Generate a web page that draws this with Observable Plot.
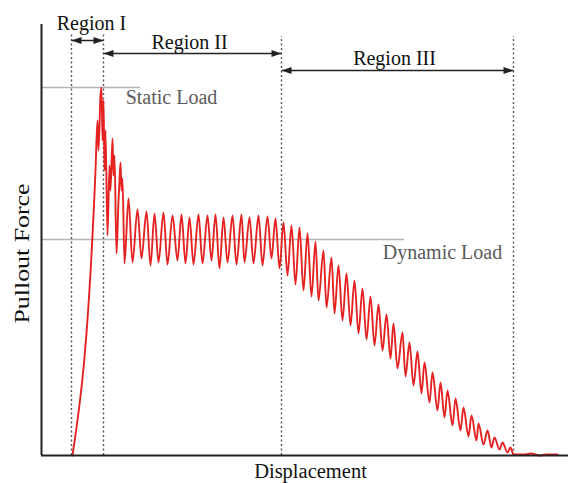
<!DOCTYPE html>
<html>
<head>
<meta charset="utf-8">
<script src="https://cdn.jsdelivr.net/npm/d3@7"></script>
<script src="https://cdn.jsdelivr.net/npm/@observablehq/plot@0.6"></script>
<style>
  html, body { margin: 0; padding: 0; background: #fff; }
  #chart svg { display: block; }
</style>
</head>
<body>
<div id="chart"></div>
<script>
// Displacement (arbitrary units) and pullout force (arbitrary units) of the curve's turning points
const disp = [31, 54, 56, 57, 59, 60, 61, 62, 63, 64, 66, 68, 69, 71, 72, 73, 75, 77, 78, 79, 80, 81, 83, 87, 91,
  96, 100, 105, 109, 113, 117, 122, 126, 131, 136, 140, 144, 148, 152, 157, 161, 166, 170, 174, 178, 182, 186,
  191, 195, 200, 203, 208, 212, 217, 221, 226, 230, 234, 238,
  242, 246, 250, 254, 258, 262, 266, 270, 274, 277, 282, 285, 290, 293, 297, 301, 305, 309, 313, 317, 321, 325,
  329, 333, 337, 341, 345, 349, 352, 356, 361, 364, 368, 372, 376, 380, 383, 388, 391, 396, 399, 403, 406, 411,
  414, 419, 422, 427, 430, 435, 437, 442, 446, 450, 453, 458, 461, 466, 469, 472, 484, 489, 499, 504, 516];
const force = [0, 285, 335, 305, 360, 368, 315, 355, 285, 325, 220, 290, 265, 317, 280, 300, 202, 255, 275, 293, 265, 277, 192, 257, 193,
  246, 197, 244, 190, 242, 193, 243, 191, 240, 195, 241, 192, 238, 191, 241, 192, 240, 195, 241, 187, 238, 193,
  240, 191, 241, 193, 238, 192, 240, 190, 239, 197, 237, 187,
  233, 180, 230, 171, 228, 165, 222, 159, 214, 155, 205, 148, 198, 142, 190, 135, 182, 130, 175, 122, 167, 116,
  159, 110, 151, 105, 141, 97, 132, 87, 123, 79, 113, 70, 104, 62, 93, 53, 83, 45, 73, 38, 65, 30,
  57, 25, 48, 19, 40, 15, 32, 11, 25, 8, 18, 6, 13, 3, 8, 1, 1, 2, 0, 1, 1];

// Region boundaries (displacement) and region labels
const boundaries = [30, 62, 240, 472];
const boundaryTops = [422, 422, 419, 419];
const regionNames = ["Region I", "Region II", "Region III"];
const regionArrowLevel = [415, 402, 385];
const regionLabelX = [50, 148, 353];
const regionLabelY = [432, 413, 397];

// Reference load levels
const loadNames = ["Static Load", "Dynamic Load"];
const loadLevels = [368, 216];
const loadLineEnds = [99, 363];
const loadLabelX = [130, 401];
const loadLabelY = [358, 203];

const curve = disp.map((d, i) => ({x: d, y: force[i]}));
const bounds = boundaries.map((b, i) => ({x: b, top: boundaryTops[i]}));
const regions = regionNames.map((n, i) => ({
  name: n, x1: boundaries[i], x2: boundaries[i + 1], y: regionArrowLevel[i],
  lx: regionLabelX[i], ly: regionLabelY[i]
}));
const heads = regions.flatMap(r => [
  {x: r.x1, y: r.y, rot: 180},
  {x: r.x2, y: r.y, rot: 0}
]);
const loads = loadNames.map((n, i) => ({name: n, y: loadLevels[i], x2: loadLineEnds[i], lx: loadLabelX[i], ly: loadLabelY[i]}));

const arrowHead = {
  draw(context) {
    context.moveTo(0, 0);
    context.lineTo(-10, -3.6);
    context.lineTo(-10, 3.6);
    context.closePath();
  }
};

const serif = "Liberation Serif, Times New Roman, serif";

const chart = Plot.plot({
  width: 568,
  height: 483,
  marginLeft: 41,
  marginRight: 0,
  marginTop: 24,
  marginBottom: 28,
  style: {background: "#fff", fontFamily: serif, overflow: "visible"},
  x: {domain: [0, 527], axis: null},
  y: {domain: [0, 431], axis: null},
  marks: [
    // load level lines
    Plot.ruleY(loads, {y: "y", x1: 0, x2: "x2", stroke: "#b4b4b4", strokeWidth: 1.5}),
    // region boundaries
    Plot.ruleX(bounds, {x: "x", y1: 0, y2: "top", stroke: "#555", strokeWidth: 1.4, strokeDasharray: "2,2.5"}),
    // region arrows
    Plot.link(regions, {x1: "x1", x2: "x2", y1: "y", y2: "y", stroke: "#222", strokeWidth: 1.3}),
    Plot.dot(heads, {x: "x", y: "y", rotate: "rot", symbol: arrowHead, fill: "#222", stroke: "none"}),
    Plot.text(regions, {x: "lx", y: "ly", text: "name", fontSize: 20, fill: "#111"}),
    // load labels
    Plot.text(loads, {x: "lx", y: "ly", text: "name", fontSize: 20, fill: "#5a5a5a"}),
    // the response curve
    Plot.line(curve, {x: "x", y: "y", curve: "monotone-x", stroke: "#e52222", strokeWidth: 1.9}),
    // axes
    Plot.ruleY([0], {x1: 0, x2: 527, stroke: "#222", strokeWidth: 2}),
    Plot.ruleX([0], {y1: 0, y2: 431, stroke: "#222", strokeWidth: 2}),
    // axis titles
    Plot.text(["Displacement"], {x: 269, y: -16, text: d => d, fontSize: 20.5, fill: "#111"}),
    Plot.text(["Pullout Force"], {x: -19, y: 202, text: d => d, rotate: -90, fontSize: 21, fill: "#111"})
  ]
});
document.getElementById("chart").appendChild(chart);
// stretch the vertical title to the reference's length
d3.select(chart).selectAll("text").filter(function() { return this.textContent === "Pullout Force"; })
  .attr("textLength", 140).attr("lengthAdjust", "spacingAndGlyphs");
</script>
</body>
</html>
